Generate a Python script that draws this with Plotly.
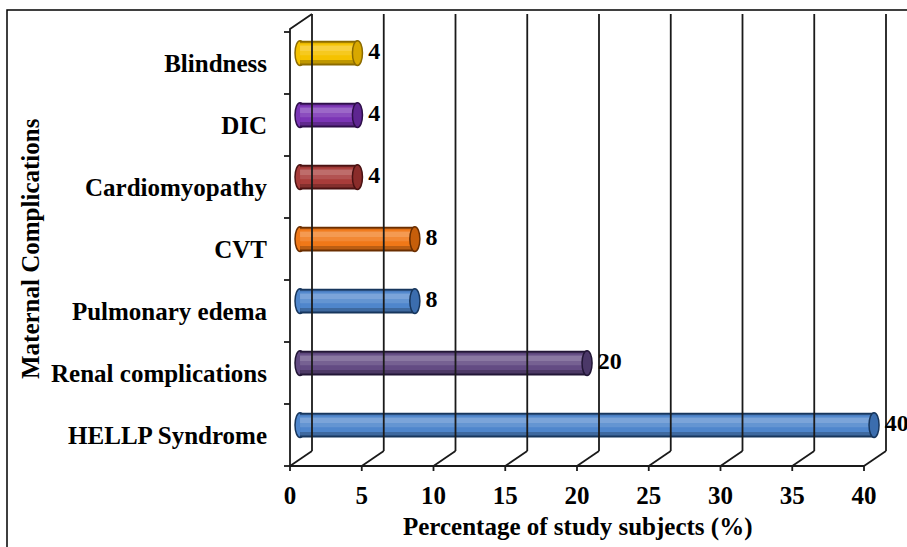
import plotly.graph_objects as go

# Data
categories = ["HELLP Syndrome", "Renal complications", "Pulmonary edema",
              "CVT", "Cardiomyopathy", "DIC", "Blindness"]
percentages = [40, 20, 8, 8, 4, 4, 4]
x_ticks = [0, 5, 10, 15, 20, 25, 30, 35, 40]

# Cylinder colours: (body, outline, end cap)
bar_colors = [
    ("#4F86CC", "#17365D", "#3B6DAE"),
    ("#634B83", "#221636", "#4B3868"),
    ("#4F86CC", "#17365D", "#3B6DAE"),
    ("#F07818", "#6A2E00", "#C65E0A"),
    ("#A83C3A", "#4A1212", "#8A2C2A"),
    ("#7B35B5", "#2E0F4A", "#5E2590"),
    ("#F5C200", "#8C6B00", "#D8A800"),
]


def mix(hex_col, other, t):
    """Blend hex_col toward other (0..1)."""
    a = [int(hex_col[j:j + 2], 16) for j in (1, 3, 5)]
    b = [int(other[j:j + 2], 16) for j in (1, 3, 5)]
    c = [round(a[k] + (b[k] - a[k]) * t) for k in range(3)]
    return "#%02X%02X%02X" % tuple(c)


FONT = "Liberation Serif"
PX_PER_X = 14.35          # pixels per percentage unit
PX_PER_Y = 62.0           # pixels per category slot
DX = 22 / PX_PER_X        # 3D depth offset along x
DY = 15 / PX_PER_Y        # 3D depth offset along y
BAR_DX = 0.7              # bars sit mid-depth
BAR_DY = 0.16
BAR_H = 0.40
CAP_W = 0.35

x_lo = -8 / PX_PER_X
x_hi = x_lo + (907 - 282) / PX_PER_X
y_lo = -0.5 - 9 / PX_PER_Y
y_hi = (466 - 10) / PX_PER_Y - 0.5

n = len(categories)
y_bottom = -0.5
y_top_front = n - 0.5 + 0.05
y_top_back = y_top_front + DY

fig = go.Figure()
line_style = dict(color="#1a1a1a", width=1.8)

# Back wall gridlines
gx, gy = [], []
for k in x_ticks:
    gx += [k + DX, k + DX, None]
    gy += [y_bottom + DY, y_top_back, None]
fig.add_trace(go.Scatter(x=gx, y=gy, mode="lines", line=line_style,
                         hoverinfo="skip", showlegend=False))

# Floor: front edge, depth diagonals and tick marks
fx, fy = [x_ticks[0], x_ticks[-1], None], [y_bottom, y_bottom, None]
for k in x_ticks:
    fx += [k, k + DX, None, k, k, None]
    fy += [y_bottom, y_bottom + DY, None, y_bottom, y_bottom - 5 / PX_PER_Y, None]
fig.add_trace(go.Scatter(x=fx, y=fy, mode="lines", line=line_style,
                         hoverinfo="skip", showlegend=False))

# Left wall: front edge, top diagonal and category tick marks
lx = [0, 0, DX, None]
ly = [y_bottom, y_top_front, y_top_back, None]
for i in range(n + 1):
    lx += [-6 / PX_PER_X, 0, None]
    ly += [i - 0.5, i - 0.5, None]
fig.add_trace(go.Scatter(x=lx, y=ly, mode="lines", line=line_style,
                         hoverinfo="skip", showlegend=False))

# Cylinder bars built from stacked shading layers
shapes = []
for i, (v, (body, dark, cap)) in enumerate(zip(percentages, bar_colors)):
    yc = i + BAR_DY
    layers = [
        (BAR_H, dark, 0.0),
        (BAR_H - 0.06, mix(body, "#000000", 0.22), 0.0),
        (0.27, body, 0.025),
        (0.17, mix(body, "#FFFFFF", 0.12), 0.05),
        (0.08, mix(body, "#FFFFFF", 0.25), 0.075),
    ]
    for w, col, dy in layers:
        fig.add_trace(go.Bar(x=[v], y=[yc + dy], base=BAR_DX, width=w,
                             orientation="h", marker=dict(color=col, line=dict(width=0)),
                             hoverinfo="skip", showlegend=False))
    # rounded start of the cylinder
    shapes.append(dict(type="circle", xref="x", yref="y", layer="below",
                       x0=BAR_DX - CAP_W, x1=BAR_DX + CAP_W,
                       y0=yc - BAR_H / 2, y1=yc + BAR_H / 2,
                       fillcolor=body, line=dict(color=dark, width=1.5)))
    # end face
    shapes.append(dict(type="circle", xref="x", yref="y", layer="above",
                       x0=v + BAR_DX - CAP_W, x1=v + BAR_DX + CAP_W,
                       y0=yc - BAR_H / 2, y1=yc + BAR_H / 2,
                       fillcolor=cap, line=dict(color=dark, width=1.5)))

# Value labels
fig.add_trace(go.Scatter(
    x=[v + BAR_DX + CAP_W + 0.4 for v in percentages],
    y=[i + BAR_DY for i in range(n)],
    mode="text", text=[f"<b>{v}</b>" for v in percentages],
    textposition="middle right",
    textfont=dict(family=FONT, size=24, color="black"),
    cliponaxis=False, hoverinfo="skip", showlegend=False))

# Outer frame
shapes.append(dict(type="rect", xref="paper", yref="paper",
                   x0=(7 - 282) / 625, x1=1.05, y0=-0.2, y1=1.0,
                   line=dict(color="black", width=1.5), layer="above"))

fig.update_layout(
    width=907, height=547,
    margin=dict(l=282, r=0, t=10, b=72),
    paper_bgcolor="white", plot_bgcolor="white",
    barmode="overlay",
    shapes=shapes,
    font=dict(family=FONT, color="black"),
    xaxis=dict(range=[x_lo, x_hi], showgrid=False, zeroline=False,
               showline=False, tickmode="array", tickvals=x_ticks,
               ticktext=[f"<b>{t}</b>" for t in x_ticks], ticks="",
               ticklabelstandoff=3,
               tickfont=dict(family=FONT, size=25, color="black")),
    yaxis=dict(range=[y_lo, y_hi], showgrid=False, zeroline=False,
               showline=False, tickmode="array", tickvals=list(range(n)),
               ticktext=[f"<b>{c}</b>" for c in categories], ticks="",
               ticklabelstandoff=14,
               tickfont=dict(family=FONT, size=25, color="black")),
    annotations=[
        dict(text="<b>Percentage of study subjects (%)</b>", xref="paper", yref="paper",
             x=(577 - 282) / 625, y=(475 - 527) / 465, showarrow=False,
             xanchor="center", yanchor="middle",
             font=dict(family=FONT, size=25, color="black")),
        dict(text="<b>Maternal Complications</b>", xref="paper", yref="paper",
             x=(31 - 282) / 625, y=(475 - 249) / 465, showarrow=False,
             textangle=-90, xanchor="center", yanchor="middle",
             font=dict(family=FONT, size=25, color="black")),
    ],
)

fig.write_html("out.html")
